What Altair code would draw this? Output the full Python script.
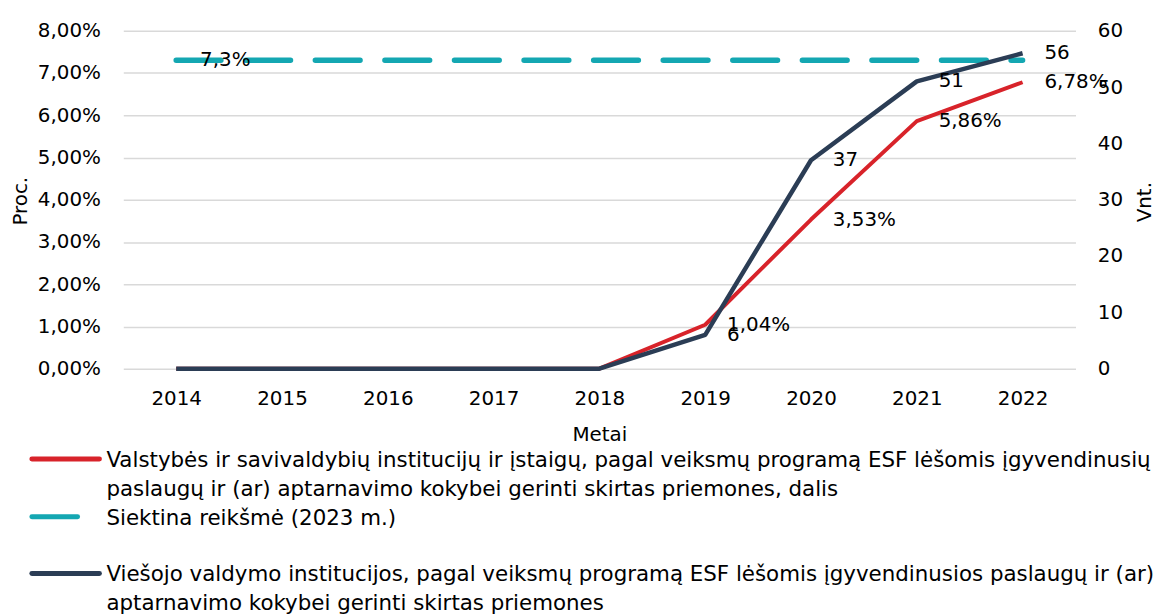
import altair as alt
import pandas as pd

# ---- data ----
years = ["2014", "2015", "2016", "2017", "2018", "2019", "2020", "2021", "2022"]
share_pct = [0.0, 0.0, 0.0, 0.0, 0.0, 1.04, 3.53, 5.86, 6.78]      # red, left axis (%)
institutions = [0, 0, 0, 0, 0, 6, 37, 51, 56]                        # navy, right axis (Vnt.)
target_pct = 7.3                                                     # teal dashed target
left_ticks = [0, 0.01, 0.02, 0.03, 0.04, 0.05, 0.06, 0.07, 0.08]
right_ticks = [0, 10, 20, 30, 40, 50, 60]

legend_red = ["Valstybės ir savivaldybių institucijų ir įstaigų, pagal veiksmų programą ESF lėšomis įgyvendinusių",
              "paslaugų ir (ar) aptarnavimo kokybei gerinti skirtas priemones, dalis"]
legend_teal = ["Siektina reikšmė (2023 m.)"]
legend_navy = ["Viešojo valdymo institucijos, pagal veiksmų programą ESF lėšomis įgyvendinusios paslaugų ir (ar)",
               "aptarnavimo kokybei gerinti skirtas priemones"]

RED = "#D8232A"
NAVY = "#2B3D55"
TEAL = "#14A7B2"
FONT = "DejaVu Sans"
FS = 20
LFS = 21.5

df = pd.DataFrame({
    "Metai": years,
    "share": [v / 100 for v in share_pct],
    "count": institutions,
    "target": [target_pct / 100] * len(years),
})
df["share_lbl"] = [(f"{v:.2f}".replace(".", ",") + "%") if v > 0 else "" for v in share_pct]
df["count_lbl"] = [str(v) if v > 0 else "" for v in institutions]
df["target_lbl"] = [(f"{target_pct:.1f}".replace(".", ",") + "%") if i == 0 else "" for i in range(len(years))]

x_enc = alt.X("Metai:O", title="Metai",
              axis=alt.Axis(labelAngle=0, ticks=False, domain=False, labelPadding=20,
                            titleY=66, titleBaseline="middle", titleFontWeight="normal"))

y_left = alt.Y("share:Q", scale=alt.Scale(domain=[0, 0.08]), title="Proc.",
               axis=alt.Axis(values=left_ticks, labelExpr="replace(format(datum.value, '.2%'), '.', ',')",
                             ticks=False, domain=False, labelPadding=23, grid=True,
                             gridColor="#D9D9D9", gridWidth=1.5,
                             titleAngle=270, titleX=-103, titleY=171, titleBaseline="middle",
                             titleAlign="center", titleFontWeight="normal"))
y_right = alt.Y("count:Q", scale=alt.Scale(domain=[0, 60]), title="Vnt.",
                axis=alt.Axis(orient="right", values=right_ticks, ticks=False, domain=False,
                              labelPadding=22, grid=False,
                              titleAngle=270, titleX=69, titleY=172, titleBaseline="middle",
                              titleAlign="center", titleFontWeight="normal"))

base = alt.Chart(df).encode(x=x_enc)

teal_line = base.mark_line(color=TEAL, strokeWidth=5.5, strokeDash=[45, 25], strokeCap="round").encode(
    y=alt.Y("target:Q", scale=alt.Scale(domain=[0, 0.08])))
red_line = base.mark_line(color=RED, strokeWidth=4, strokeJoin="round").encode(y=y_left)
red_lbl = base.mark_text(align="left", baseline="middle", dx=22, font=FONT, fontSize=FS, color="#000000").encode(
    y=alt.Y("share:Q"), text="share_lbl:N")
teal_lbl = base.mark_text(align="left", baseline="middle", dx=24, font=FONT, fontSize=FS, color="#000000").encode(
    y=alt.Y("target:Q"), text="target_lbl:N")

left = alt.layer(teal_line, red_line, red_lbl, teal_lbl)

navy_line = base.mark_line(color=NAVY, strokeWidth=4.5, strokeJoin="round").encode(y=y_right)
navy_lbl = base.mark_text(align="left", baseline="middle", dx=22, font=FONT, fontSize=FS, color="#000000").encode(
    y=alt.Y("count:Q"), text="count_lbl:N")
right = alt.layer(navy_line, navy_lbl)

# ---- legend (drawn below the plot) ----
leg_df = pd.DataFrame({"red": ["\n".join(legend_red)], "teal": ["\n".join(legend_teal)],
                       "navy": ["\n".join(legend_navy)]})
leg = alt.Chart(leg_df)
def leg_sym(color, x2, y):
    return leg.mark_rule(color=color, strokeWidth=5, strokeCap="round").encode(
        x=alt.value(-92), x2=alt.value(x2), y=alt.value(y))
def leg_txt(field, y):
    return leg.mark_text(align="left", baseline="alphabetic", lineBreak="\n", lineHeight=29,
                         font=FONT, fontSize=LFS, color="#000000").encode(
        x=alt.value(-17), y=alt.value(y), text=f"{field}:N")

legend = alt.layer(
    leg_sym(RED, -24, 431), leg_txt("red", 439),
    leg_sym(TEAL, -46, 489), leg_txt("teal", 497),
    leg_sym(NAVY, -24, 546), leg_txt("navy", 554),
)

chart = alt.layer(left, right, legend).resolve_scale(y="independent").properties(
    width=958, height=340,
    autosize=alt.AutoSizeParams(type="none"),
    padding={"left": 116, "top": 21, "right": 80, "bottom": 248},
).configure_view(stroke=None).configure_axis(
    labelFont=FONT, labelFontSize=FS, labelColor="#000000",
    titleFont=FONT, titleFontSize=20, titleColor="#000000",
)

chart.save("out.html", embed_options={"renderer": "svg", "actions": False})
